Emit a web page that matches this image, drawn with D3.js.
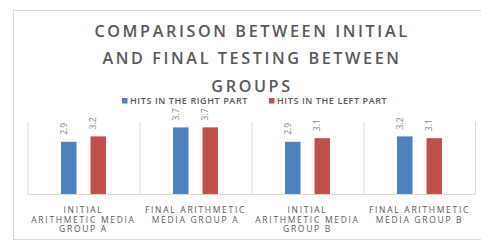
<!DOCTYPE html>
<html>
<head>
<meta charset="utf-8">
<script src="https://cdn.jsdelivr.net/npm/d3@7"></script>
<style>
  body { margin: 0; background: #fff; }
  svg { display: block; font-family: "Open Sans", sans-serif; }
</style>
</head>
<body>
<svg id="chart"></svg>
<script>
var categories = ["INITIAL ARITHMETIC MEDIA GROUP A", "FINAL ARITHMETIC MEDIA GROUP A",
                  "INITIAL ARITHMETIC MEDIA GROUP B", "FINAL ARITHMETIC MEDIA GROUP B"];
var tickLines = [["INITIAL", "ARITHMETIC MEDIA", "GROUP A"],
                 ["FINAL ARITHMETIC", "MEDIA GROUP A"],
                 ["INITIAL", "ARITHMETIC MEDIA", "GROUP B"],
                 ["FINAL ARITHMETIC", "MEDIA GROUP B"]];
var seriesNames = ["HITS IN THE RIGHT PART", "HITS IN THE LEFT PART"];
var rightPart = [2.9, 3.7, 2.9, 3.2];
var leftPart = [3.2, 3.7, 3.1, 3.1];
var titleLines = ["COMPARISON BETWEEN INITIAL", "AND FINAL TESTING BETWEEN", "GROUPS"];

var W = 481, H = 241;
var colors = ["#4f81bd", "#c0504d"];
var textColor = "#595959";
var series = [rightPart, leftPart];

var svg = d3.select("#chart").attr("width", W).attr("height", H);

// chart frame
svg.append("rect")
  .attr("x", 13.5).attr("y", 10.5)
  .attr("width", 490).attr("height", 229)
  .attr("fill", "#fff").attr("stroke", "#d9d9d9");

// title
svg.append("g").selectAll("text")
  .data(titleLines)
  .enter().append("text")
  .attr("x", 252)
  .attr("y", function(d, i) { return 36.5 + i * 27.5; })
  .attr("text-anchor", "middle")
  .attr("fill", textColor)
  .style("font-size", "16.2px")
  .style("font-weight", 600)
  .style("letter-spacing", "2.6px")
  .text(function(d) { return d; });

var plot = {left: 27.5, right: 475.5, top: 122, bottom: 194};

var x0 = d3.scaleBand().domain(categories).range([plot.left, plot.right]).padding(0);
var x1 = d3.scaleBand().domain([0, 1]).range([0, x0.bandwidth()])
  .paddingInner(0.475).paddingOuter(1.136);
var y = d3.scaleLinear().domain([0, 4]).range([plot.bottom, plot.top]);

// separators
svg.append("g").selectAll("line")
  .data(categories.concat([null]))
  .enter().append("line")
  .attr("x1", function(d) { return d === null ? plot.right : x0(d) + 0.5; })
  .attr("x2", function(d) { return d === null ? plot.right : x0(d) + 0.5; })
  .attr("y1", plot.top).attr("y2", plot.bottom)
  .attr("stroke", "#d9d9d9");

svg.append("line")
  .attr("x1", plot.left).attr("x2", plot.right)
  .attr("y1", plot.bottom + 0.5).attr("y2", plot.bottom + 0.5)
  .attr("stroke", "#d9d9d9");

// bars
var groups = svg.selectAll(".group")
  .data(categories)
  .enter().append("g")
  .attr("class", "group")
  .attr("transform", function(d) { return "translate(" + x0(d) + ",0)"; });

groups.selectAll("rect")
  .data(function(d, i) { return series.map(function(s, k) { return {k: k, v: s[i]}; }); })
  .enter().append("rect")
  .attr("x", function(d) { return x1(d.k); })
  .attr("y", function(d) { return y(d.v); })
  .attr("width", x1.bandwidth())
  .attr("height", function(d) { return y(0) - y(d.v); })
  .attr("fill", function(d) { return colors[d.k]; });

groups.selectAll(".val")
  .data(function(d, i) { return series.map(function(s, k) { return {k: k, v: s[i]}; }); })
  .enter().append("text")
  .attr("class", "val")
  .attr("transform", function(d) {
    return "translate(" + (x1(d.k) + x1.bandwidth() / 2 - 2) + "," + (y(d.v) - 7) + ") rotate(-90)";
  })
  .attr("fill", "#858585")
  .style("font-size", "8.5px")
  .text(function(d) { return d3.format(".1f")(d.v); });

// category labels
var ticks = svg.append("g").selectAll("text")
  .data(categories)
  .enter().append("text")
  .attr("x", function(d) { return x0(d) + x0.bandwidth() / 2; })
  .attr("y", 213)
  .attr("text-anchor", "middle")
  .attr("fill", textColor)
  .style("font-size", "8.5px")
  .style("letter-spacing", "1.7px");

ticks.selectAll("tspan")
  .data(function(d, i) { return tickLines[i]; })
  .enter().append("tspan")
  .attr("x", function() { var p = this.parentNode; return p.getAttribute("x"); })
  .attr("dy", function(d, i) { return i === 0 ? 0 : 9.6; })
  .text(function(d) { return d; });

// legend
var legendX = [122, 269];
var legend = svg.selectAll(".legend")
  .data(seriesNames)
  .enter().append("g")
  .attr("class", "legend")
  .attr("transform", function(d, i) { return "translate(" + legendX[i] + ",98)"; });

legend.append("rect")
  .attr("width", 5.5).attr("height", 5.5)
  .attr("fill", function(d, i) { return colors[i]; });

legend.append("text")
  .attr("x", 8).attr("y", 5.8)
  .attr("fill", textColor)
  .style("font-size", "9px")
  .style("font-weight", 600)
  .style("letter-spacing", "0.6px")
  .text(function(d) { return d; });
</script>
</body>
</html>
